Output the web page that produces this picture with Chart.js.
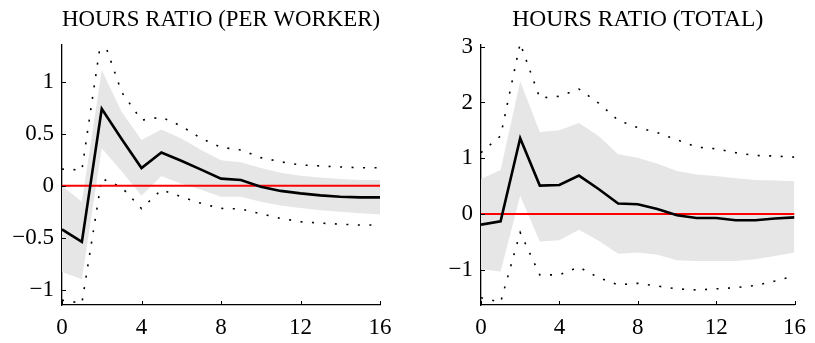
<!DOCTYPE html>
<html>
<head>
<meta charset="utf-8">
<script src="https://cdn.jsdelivr.net/npm/chart.js@4/dist/chart.umd.min.js"></script>
<style>
  html, body { margin: 0; padding: 0; background: #fff; }
  #wrap { position: relative; width: 815px; height: 343px; overflow: hidden; }
  canvas { position: absolute; top: 0; }
</style>
</head>
<body>
<div id="wrap">
  <canvas id="perWorker" width="407" height="343" style="left:0"></canvas>
  <canvas id="total" width="408" height="343" style="left:407px"></canvas>
</div>
<script>
// Quarters after the shock
const horizons = [0, 1, 2, 3, 4, 5, 6, 7, 8, 9, 10, 11, 12, 13, 14, 15, 16];
const xTickValues = [0, 4, 8, 12, 16];

// Hours ratio, per worker: point response, inner band, outer (dotted) band
const pwResponse = [-0.42, -0.54, 0.74, 0.45, 0.17, 0.32, 0.24, 0.155, 0.068, 0.055, -0.01, -0.05, -0.074, -0.093, -0.106, -0.112, -0.112];
const pwBandHigh = [0.0, -0.155, 1.11, 0.71, 0.44, 0.54, 0.455, 0.343, 0.245, 0.225, 0.17, 0.125, 0.095, 0.08, 0.065, 0.055, 0.055];
const pwBandLow = [-0.83, -0.90, 0.36, 0.14, -0.096, 0.093, 0.02, -0.04, -0.105, -0.105, -0.155, -0.19, -0.215, -0.235, -0.25, -0.265, -0.275];
const pwOuterHigh = [0.16, 0.15, 1.45, 0.90, 0.63, 0.66, 0.574, 0.455, 0.37, 0.343, 0.27, 0.23, 0.20, 0.19, 0.18, 0.173, 0.173];
const pwOuterLow = [-1.10, -1.13, 0.07, -0.015, -0.22, -0.04, -0.106, -0.17, -0.218, -0.224, -0.27, -0.314, -0.346, -0.359, -0.37, -0.378, -0.378];
const pwYTicks = [-1, -0.5, 0, 0.5, 1];
const pwYRange = [-1.147, 1.353];

// Hours ratio, total
const totResponse = [-0.19, -0.13, 1.36, 0.51, 0.52, 0.69, 0.45, 0.19, 0.175, 0.09, -0.02, -0.07, -0.07, -0.11, -0.11, -0.08, -0.06];
const totBandHigh = [0.63, 0.79, 2.38, 1.47, 1.5, 1.63, 1.4, 1.07, 1.01, 0.9, 0.77, 0.71, 0.68, 0.64, 0.61, 0.60, 0.59];
const totBandLow = [-0.99, -1.03, 0.33, -0.49, -0.47, -0.28, -0.48, -0.71, -0.69, -0.73, -0.83, -0.84, -0.84, -0.84, -0.81, -0.75, -0.69];
const totOuterHigh = [1.1, 1.4, 3.06, 2.08, 2.11, 2.24, 1.99, 1.68, 1.55, 1.46, 1.33, 1.2, 1.17, 1.10, 1.05, 1.04, 1.02];
const totOuterLow = [-1.5, -1.58, -0.33, -1.09, -1.09, -0.95, -1.14, -1.27, -1.24, -1.29, -1.34, -1.36, -1.34, -1.32, -1.28, -1.2, -1.11];
const totYTicks = [-1, 0, 1, 2, 3];
const totYRange = [-1.63, 3.03];

const SERIF = '"Liberation Serif", "Times New Roman", serif';

const toPoints = vals => vals.map((v, i) => ({ x: horizons[i], y: v }));
const fmtTick = v => (v < 0 ? '\u2212' + Math.abs(v) : String(v));

// Short tick marks drawn on the inside of the axes
const inwardTicks = {
  id: 'inwardTicks',
  afterDraw(chart) {
    const { ctx, chartArea: a, scales: { x, y } } = chart;
    ctx.save();
    ctx.strokeStyle = '#000';
    ctx.lineWidth = 1;
    ctx.beginPath();
    x.ticks.forEach(t => {
      const px = Math.round(x.getPixelForValue(t.value)) + 0.5;
      ctx.moveTo(px, a.bottom);
      ctx.lineTo(px, a.bottom - 4);
    });
    y.ticks.forEach(t => {
      const py = Math.round(y.getPixelForValue(t.value)) + 0.5;
      ctx.moveTo(a.left, py);
      ctx.lineTo(a.left + 4, py);
    });
    ctx.stroke();
    ctx.restore();
  }
};

function makePanel(canvasId, title, series, yTicks, yRange, yAxisWidth, rightPad) {
  const zero = [{ x: horizons[0], y: 0 }, { x: horizons[horizons.length - 1], y: 0 }];
  return new Chart(document.getElementById(canvasId), {
    type: 'line',
    data: {
      datasets: [
        { data: toPoints(series.bandHigh), borderWidth: 0, pointRadius: 0,
          backgroundColor: '#e6e6e6', fill: '+1', order: 5 },
        { data: toPoints(series.bandLow), borderWidth: 0, pointRadius: 0,
          fill: false, order: 6 },
        { data: toPoints(series.outerHigh), borderColor: '#000', borderWidth: 1.6,
          borderDash: [2, 9.5], pointRadius: 0, fill: false, order: 3 },
        { data: toPoints(series.outerLow), borderColor: '#000', borderWidth: 1.6,
          borderDash: [2, 9.5], pointRadius: 0, fill: false, order: 3 },
        { data: zero, borderColor: '#ff0000', borderWidth: 2, pointRadius: 0,
          fill: false, order: 2 },
        { data: toPoints(series.response), borderColor: '#000', borderWidth: 2.6,
          pointRadius: 0, fill: false, order: 1, borderJoinStyle: 'miter' }
      ]
    },
    options: {
      responsive: false,
      animation: false,
      devicePixelRatio: 1,
      layout: { padding: { left: 0, right: rightPad, top: 0, bottom: 0 } },
      plugins: {
        legend: { display: false },
        tooltip: { enabled: false },
        title: {
          display: true,
          text: title,
          fullSize: false,
          color: '#000',
          font: { family: SERIF, size: 23.5, weight: 'normal', lineHeight: 1.2 },
          padding: { top: 6, bottom: 10.8 }
        }
      },
      scales: {
        x: {
          type: 'linear',
          min: horizons[0],
          max: horizons[horizons.length - 1],
          afterBuildTicks: s => { s.ticks = xTickValues.map(v => ({ value: v })); },
          afterFit: s => { s.height = 38; },
          grid: { display: false, drawTicks: false },
          border: { display: true, color: '#000', width: 1.3 },
          ticks: { color: '#000', padding: 9, maxRotation: 0, autoSkip: false,
                   font: { family: SERIF, size: 23 } }
        },
        y: {
          type: 'linear',
          min: yRange[0],
          max: yRange[1],
          afterBuildTicks: s => { s.ticks = yTicks.map(v => ({ value: v })); },
          afterFit: s => { s.width = yAxisWidth; },
          grid: { display: false, drawTicks: false },
          border: { display: true, color: '#000', width: 1.3 },
          ticks: { color: '#000', padding: 8, autoSkip: false,
                   font: { family: SERIF, size: 23 }, callback: v => fmtTick(v) }
        }
      }
    },
    plugins: [inwardTicks]
  });
}

makePanel('perWorker', 'HOURS RATIO (PER WORKER)', {
  response: pwResponse, bandHigh: pwBandHigh, bandLow: pwBandLow,
  outerHigh: pwOuterHigh, outerLow: pwOuterLow
}, pwYTicks, pwYRange, 62, 27);

makePanel('total', 'HOURS RATIO (TOTAL)', {
  response: totResponse, bandHigh: totBandHigh, bandLow: totBandLow,
  outerHigh: totOuterHigh, outerLow: totOuterLow
}, totYTicks, totYRange, 74, 16);
</script>
</body>
</html>
